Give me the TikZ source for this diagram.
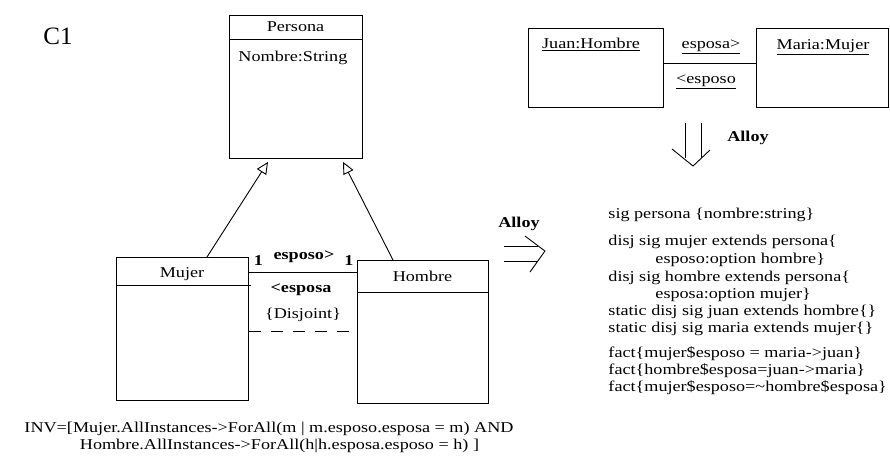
\documentclass[tikz,border=0pt]{standalone}
\usepackage{fontspec}
\setmainfont[FakeStretch=1.21]{Liberation Serif}
\newfontfamily\plainserif{Liberation Serif}
\usetikzlibrary{arrows.meta,calc}
\begin{document}
\begin{tikzpicture}[x=1pt,y=-1pt,line width=0.9pt,
  txt/.style={font=\fontsize{15}{17}\selectfont, inner sep=0pt, text height=10pt, text depth=3pt},
  boldtxt/.style={font=\fontsize{15}{17}\selectfont\bfseries, inner sep=0pt, text height=10pt, text depth=3pt},
  box/.style={draw, anchor=north west, inner sep=0pt},
  gen/.style={-{Triangle[open,length=12pt,width=11pt]}},
  code/.style={txt, anchor=west},
]
\useasboundingbox (0,0) rectangle (890,472);

% C1 title
\node[font=\plainserif\fontsize{25}{28}\selectfont, inner sep=0pt] (c1) at (58,36) {C1};

% class boxes
\node[box, minimum width=133pt, minimum height=143pt] (persona) at (229,15) {};
\draw ($(persona.north west)+(0,24)$) -- ($(persona.north east)+(0,24)$);
\node[txt] (personalbl) at (295.5,28) {Persona};
\node[txt, anchor=west] (nombre) at (238,58) {Nombre:String};

\node[box, minimum width=132pt, minimum height=143pt] (mujer) at (116,257) {};
\draw ($(mujer.north west)+(0,28)$) -- ($(mujer.north east)+(2,28)$);
\node[txt] (mujerlbl) at (182,274) {Mujer};

\node[box, minimum width=131pt, minimum height=143pt] (hombre) at (357,260) {};
\draw ($(hombre.north west)+(0,32)$) -- ($(hombre.north east)+(0,32)$);
\node[txt] (hombrelbl) at (422.5,278) {Hombre};

% generalizations
\draw[gen] ($(mujer.north west)+(91,0)$) -- ($(persona.south west)+(39,3)$);
\draw[gen] ($(hombre.north west)+(36,0)$) -- ($(persona.south west)+(114,3)$);

% association
\draw (mujer.east |- 0,272) -- (hombre.west |- 0,272);
\draw[dash pattern=on 12pt off 10pt] (mujer.east |- 0,331) -- (hombre.west |- 0,331);
\node[boldtxt] (m1) at (258.5,262) {1};
\node[boldtxt, fill=white, inner xsep=1pt] (h1) at (349,262) {1};
\node[boldtxt] (esposo) at (304,256) {esposo>};
\node[boldtxt] (esposa) at (301,289) {<esposa};
\node[txt] (disj) at (303,315) {\{Disjoint\}};

% invariant
\node[txt] (inv1) at (269,429) {INV=[Mujer.AllInstances->ForAll(m | m.esposo.esposa = m) AND};
\node[txt] (inv2) at (279.5,446) {Hombre.AllInstances->ForAll(h|h.esposa.esposo = h) ]};

% middle Alloy arrow
\node[boldtxt] (alloy1) at (519,224) {Alloy};
\draw (504,246) -- (538,246);
\draw (504,261) -- (538,261);
\draw (525,236) -- (545,251) -- (530,272);

% object diagram
\node[box, minimum width=135pt, minimum height=79pt] (juan) at (528,28) {};
\node[box, minimum width=132pt, minimum height=79pt] (maria) at (756,28) {};
\node[txt] (juanlbl) at (591,45) {\underline{Juan:Hombre}};
\node[txt] (marialbl) at (823,46) {\underline{Maria:Mujer}};
\draw (juan.east |- 0,63) -- (maria.west |- 0,63);
\node[txt] (esposaobj) at (711,45) {\underline{esposa>}};
\node[txt] (esposoobj) at (706,80) {\underline{<esposo}};

% down Alloy arrow
\draw (685,123) -- (685,158);
\draw (701,123) -- (701,158);
\draw (672,149) -- (693,166) -- (710,150);
\node[boldtxt] (alloy2) at (748,138) {Alloy};

% Alloy code
\node[code] (l1) at (608,215) {sig persona \{nombre:string\}};
\node[code] (l2) at (608,242) {disj sig mujer extends persona\{};
\node[code] (l3) at (655,260) {esposo:option hombre\}};
\node[code] (l4) at (608,278) {disj sig hombre extends persona\{};
\node[code] (l5) at (655,295) {esposa:option mujer\}};
\node[code] (l6) at (608,312) {static disj sig juan extends hombre\{\}};
\node[code] (l7) at (608,329) {static disj sig maria extends mujer\{\}};
\node[code] (l8) at (608,354) {fact\{mujer\$esposo = maria->juan\}};
\node[code] (l9) at (608,371) {fact\{hombre\$esposa=juan->maria\}};
\node[code] (l10) at (608,388) {fact\{mujer\$esposo=\textasciitilde hombre\$esposa\}};
\end{tikzpicture}
\end{document}
